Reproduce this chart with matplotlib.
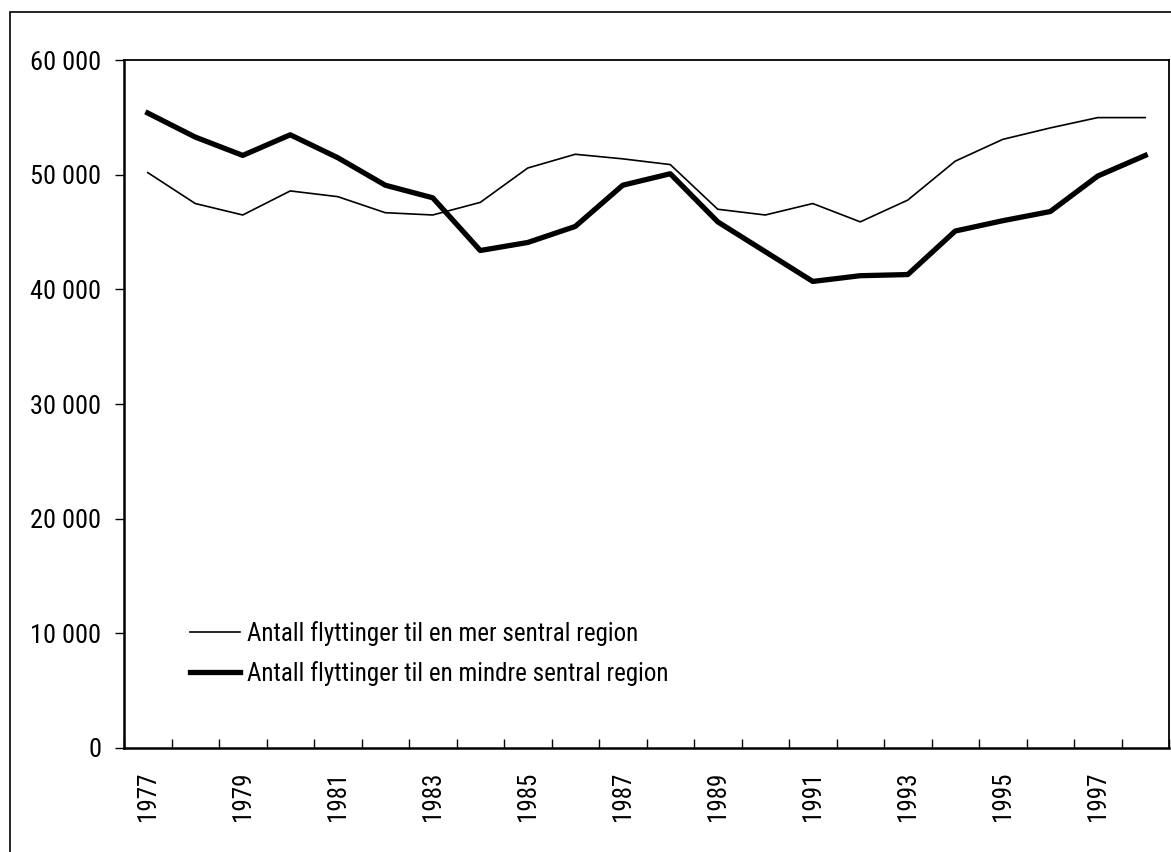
import numpy as np
import matplotlib
matplotlib.use("Agg")
import matplotlib.pyplot as plt
from matplotlib.patches import Rectangle

plt.rcParams["font.family"] = ["Roboto Condensed", "DejaVu Sans"]

# data
years = list(range(1977, 1999))
mer_sentral = [50200, 47500, 46500, 48600, 48100, 46700, 46500, 47600, 50600, 51800, 51400,
               50900, 47000, 46500, 47500, 45900, 47800, 51200, 53100, 54100, 55000, 55000]
mindre_sentral = [55400, 53300, 51700, 53500, 51500, 49100, 48000, 43400, 44100, 45500, 49100,
                  50100, 45900, 43300, 40700, 41200, 41300, 45100, 46000, 46800, 49900, 51700]
label_mer = "Antall flyttinger til en mer sentral region"
label_mindre = "Antall flyttinger til en mindre sentral region"
yticks = [0, 10000, 20000, 30000, 40000, 50000, 60000]
ytick_labels = ["0", "10 000", "20 000", "30 000", "40 000", "50 000", "60 000"]

fig = plt.figure(figsize=(11.71, 8.52), dpi=100)
ax = fig.add_axes([0.1059, 0.1224, 0.8924, 0.8068])

x = np.arange(len(years))
ax.plot(x, mer_sentral, color="black", linewidth=1.2, label=label_mer)
ax.plot(x, mindre_sentral, color="black", linewidth=3.8, label=label_mindre)

ax.set_xlim(-0.5, len(years) - 0.5)
ax.set_ylim(0, 60000)

# category boundaries carry the tick marks, labels sit at every second year
ax.set_xticks(np.arange(len(years) + 1) - 0.5)
ax.set_xticklabels([])
ax.tick_params(axis="x", which="major", direction="in", length=6.5, width=1)
ax.set_xticks(x[::2], minor=True)
ax.set_xticklabels([str(y) for y in years[::2]], minor=True, rotation=90, fontsize=18)
ax.tick_params(axis="x", which="minor", length=0, pad=17)

ax.set_yticks(yticks)
ax.set_yticklabels(ytick_labels, fontsize=19)
ax.tick_params(axis="y", direction="out", length=6.5, width=1, pad=10)

for side in ["top", "right"]:
    ax.spines[side].set_linewidth(1.3)
for side in ["left", "bottom"]:
    ax.spines[side].set_linewidth(1.8)

ax.legend(loc="center left", bbox_to_anchor=(0.063, 0.137), frameon=False, fontsize=18,
          handlelength=2.0, handletextpad=0.3, labelspacing=0.6, borderpad=0,
          borderaxespad=0)

# outer frame round the whole chart, cut off at the right and bottom edges
fig.patches.append(Rectangle((10 / 1171, -0.05), 1.05, 1.05 - 12 / 852, transform=fig.transFigure,
                             fill=False, edgecolor="black", linewidth=1.2, clip_on=False))

fig.savefig("out.png", dpi=100)
